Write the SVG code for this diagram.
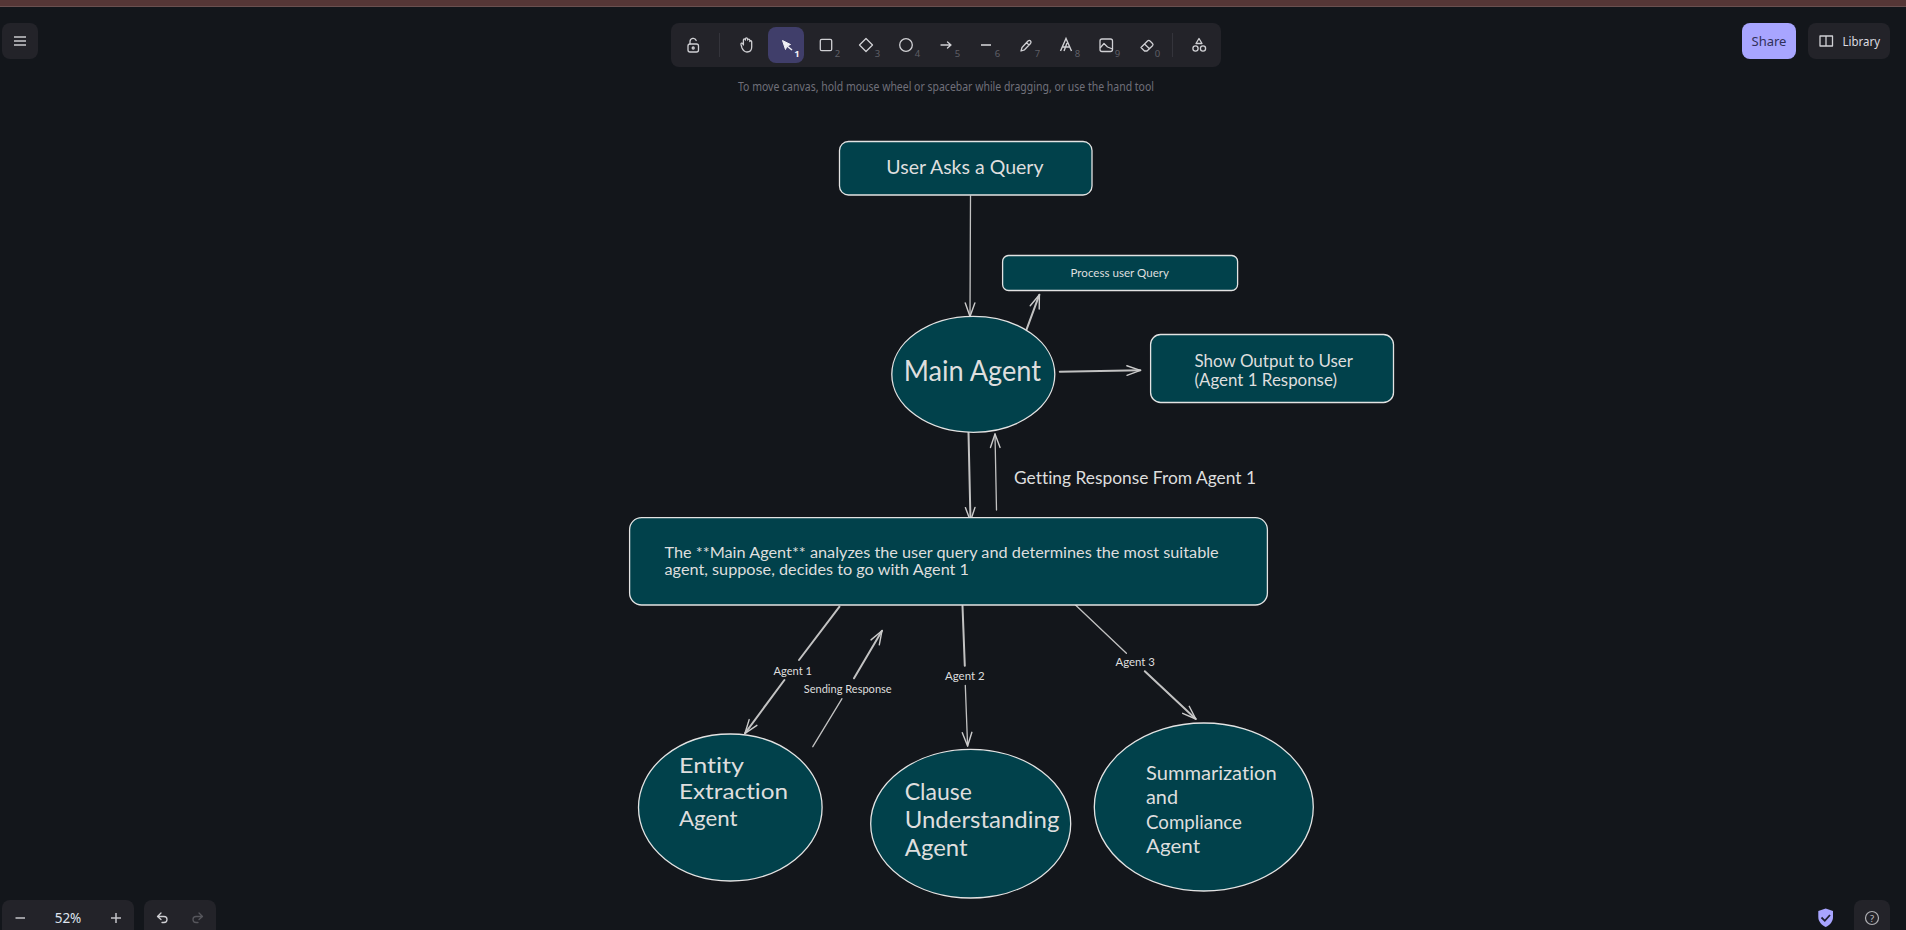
<svg xmlns="http://www.w3.org/2000/svg" width="1906" height="930" viewBox="0 0 1906 930">
<style>
.node{fill:#01414b;stroke:#e3e3e3;stroke-width:1.3}
.hand{font-family:"Lato","Noto Sans",sans-serif;fill:#dedede;stroke:none;font-variant-ligatures:none;transform:translateY(1px)}
.link{fill:none;stroke:#c2c2c2;stroke-width:1.3;stroke-linecap:round}
.thick{stroke-width:2}
.panel{fill:#232329}
.ui{font-family:"Noto Sans",sans-serif}
.icon{fill:none;stroke:#d0d0d4;stroke-width:1.3;stroke-linecap:round;stroke-linejoin:round}
.key{font-family:"Noto Sans",sans-serif;font-size:9.5px;fill:#5f5f66}
</style>
<defs>
<marker id="arrow" markerUnits="userSpaceOnUse" markerWidth="18" markerHeight="14" viewBox="-15 -7 18 14" refX="0" refY="0" orient="auto" overflow="visible">
<path d="M-13.5 -4.8L0 0L-13.5 4.8" fill="none" stroke="#cccccc" stroke-width="1.4" stroke-linecap="round" stroke-linejoin="round"/>
</marker>
</defs>
<rect width="1906" height="930" fill="#13161b"/>
<rect width="1906" height="6.5" fill="#553636"/>
<rect y="6" width="1906" height="1" fill="#6a5050"/>

<g id="menu-button">
<rect class="panel" x="2" y="23" width="36" height="36" rx="8"/>
<path d="M14 37H26M14 41H26M14 45H26" stroke="#a0a0a4" stroke-width="2" fill="none"/>
</g>

<g id="toolbar">
<rect class="panel" x="671" y="23" width="550" height="44" rx="8"/>
<rect x="768" y="27" width="36" height="36" rx="8" fill="#403e6a"/>
<path d="M719.5 33V57M1172.500 33V57" stroke="#34343b" stroke-width="1"/>
<g class="icon">
<rect x="688" y="44" width="10.500" height="8" rx="2"/><circle cx="693.200" cy="48" r="1"/><path d="M690 44V41.500A3.200 3.200 0 0 1 696.200 40.500"/>
<path d="M742 48L741 44.500C740.700 43 742 42.600 742.800 43.700L743.400 45V40C743.400 38.500 745.200 38.500 745.400 40V39C745.400 37.500 747.400 37.500 747.600 39V40C747.800 38.700 749.600 38.700 749.800 40V41.500C750 40.400 751.600 40.500 751.700 41.700V47C751.700 50.500 749.800 52 747 52C744.600 52 743.200 50.500 742 48Z"/>
<rect x="820.300" y="39.300" width="11.400" height="11.400" rx="1.500"/>
<path d="M866 38.500L872.500 45L866 51.500L859.500 45Z"/>
<circle cx="906" cy="45" r="6.300"/>
<path d="M941 45H951M947.500 42L951 45L947.500 48"/>
<path d="M1021 51L1022 47.500L1028 41C1030 39.500 1032 41.500 1030.500 43.500L1024.500 49.800Z M1026.500 42.600L1029 45"/>
<rect x="1100" y="39" width="12.500" height="12.500" rx="2"/><path d="M1100.500 47.500L1104 43.500L1107.500 47L1112.500 49"/>
<path d="M1141 47.500L1147.500 41C1148.300 40.200 1149.300 40.200 1150 41L1152.500 43.500C1153.200 44.200 1153.200 45 1152.500 45.800L1147 51H1144.500L1141 47.500ZM1144.500 44L1149.500 48.700"/>
<path d="M1199 38.500L1202 43.500H1196Z"/><circle cx="1195.500" cy="48.500" r="2.600"/><circle cx="1203" cy="48.500" r="2.600"/>
</g>
<path d="M981 45H991" stroke="#d0d0d4" stroke-width="1.600"/>
<path d="M782.500 40.500L790.500 44.500L787 46L785.500 49.500Z" fill="#f0f0f4" stroke="#f0f0f4" stroke-width="1" stroke-linejoin="round"/>
<path d="M787 46L792 50" stroke="#f0f0f4" stroke-width="1.600"/>
<path d="M1060.500 51L1066 38.500L1071.500 51M1062.500 47H1069.500M1064 51L1067 43" fill="none" stroke="#d0d0d4" stroke-width="1.400"/>
<text class="key" x="797" y="56.500" text-anchor="middle" style="fill:#f0f0f4;font-weight:700">1</text>
<text class="key" x="837.500" y="57" text-anchor="middle">2</text>
<text class="key" x="877.500" y="57" text-anchor="middle">3</text>
<text class="key" x="917.500" y="57" text-anchor="middle">4</text>
<text class="key" x="957.500" y="57" text-anchor="middle">5</text>
<text class="key" x="997.500" y="57" text-anchor="middle">6</text>
<text class="key" x="1037.500" y="57" text-anchor="middle">7</text>
<text class="key" x="1077.500" y="57" text-anchor="middle">8</text>
<text class="key" x="1117.500" y="57" text-anchor="middle">9</text>
<text class="key" x="1157.500" y="57" text-anchor="middle">0</text>
</g>
<text class="ui" x="738" y="91" font-size="12.500" fill="#70707a" textLength="416" lengthAdjust="spacingAndGlyphs">To move canvas, hold mouse wheel or spacebar while dragging, or use the hand tool</text>

<g id="share-button">
<rect x="1742" y="23" width="54" height="36" rx="8" fill="#a8a5ff"/>
<text class="ui" x="1769" y="46" font-size="13" fill="#30305a" text-anchor="middle">Share</text>
</g>
<g id="library-button">
<rect class="panel" x="1808" y="23" width="82" height="36" rx="8"/>
<path class="icon" d="M1820 36H1826V46H1820ZM1826 36H1832.500V46H1826Z"/>
<text class="ui" x="1842.500" y="46" font-size="13" fill="#dcdce0" textLength="37.500" lengthAdjust="spacingAndGlyphs">Library</text>
</g>

<g id="zoom-controls">
<path class="panel" d="M2 930V908A8 8 0 0 1 10 900H126A8 8 0 0 1 134 908V930Z"/>
<path d="M15.500 918H25M111 918H121M116 913V923" stroke="#c4c4c8" stroke-width="1.500" fill="none"/>
<text class="ui" x="68" y="923" font-size="13.500" fill="#dfe4ee" text-anchor="middle">52%</text>
</g>
<g id="undo-controls">
<path class="panel" d="M144 930V908A8 8 0 0 1 152 900H208A8 8 0 0 1 216 908V930Z"/>
<path class="icon" d="M161 913L157.500 916.500L161 919.500M157.500 916.500H164C168 916.500 168 922.500 164 922.500H162"/>
<path class="icon" style="stroke:#56565c" d="M199 913L202.500 916.500L199 919.500M202.500 916.500H196C192 916.500 192 922.500 196 922.500H198"/>
</g>
<g id="status-icons">
<path d="M1825.700 908.500L1833 911V917C1833 921.500 1830 925 1825.700 927C1821.500 925 1818.300 921.500 1818.300 917V911Z" fill="#a8a5ff"/>
<path d="M1821.500 917.500L1824.800 920.800L1830 915" fill="none" stroke="#1f2030" stroke-width="1.800"/>
<path class="panel" d="M1854 930V908A8 8 0 0 1 1862 900H1882A8 8 0 0 1 1890 908V930Z"/>
<circle cx="1872" cy="918" r="6.500" fill="none" stroke="#b0b0b4" stroke-width="1.200"/>
<text class="ui" x="1872" y="921.500" font-size="9.500" fill="#c0c0c4" text-anchor="middle">?</text>
</g>

<g id="connectors">
<path class="link" marker-end="url(#arrow)" d="M970.500 196L970 316.500"/>
<path class="link thick" marker-end="url(#arrow)" d="M1026.600 329.300L1039.400 294.700"/>
<path class="link thick" marker-end="url(#arrow)" d="M1059.800 371.700L1140.400 370.300"/>
<path class="link thick" marker-end="url(#arrow)" d="M968.500 432.500L970.500 521"/>
<path class="link" marker-end="url(#arrow)" d="M996.500 510L995 434"/>
<path class="link thick" d="M839.500 606.700L799 660"/>
<path class="link thick" marker-end="url(#arrow)" d="M784.400 680L745 733.300"/>
<path class="link" d="M812.800 746.700L842 698.700"/>
<path class="link thick" marker-end="url(#arrow)" d="M854 678.300L882 630.700"/>
<path class="link thick" d="M962.500 606L964.800 665.700"/>
<path class="link" marker-end="url(#arrow)" d="M965.300 685.300L967.600 746"/>
<path class="link" d="M1075.500 605L1126.400 653.300"/>
<path class="link thick" marker-end="url(#arrow)" d="M1144.800 671.300L1195.800 719"/>
<text class="hand" x="773.400" y="674" font-size="11.500" textLength="38.600" lengthAdjust="spacingAndGlyphs">Agent 1</text>
<text class="hand" x="803.700" y="691.700" font-size="11.500" textLength="88" lengthAdjust="spacingAndGlyphs">Sending Response</text>
<text class="hand" x="945" y="678.700" font-size="11.500" textLength="39.600" lengthAdjust="spacingAndGlyphs">Agent 2</text>
<text class="hand" x="1115.400" y="664.700" font-size="11.500" textLength="39.600" lengthAdjust="spacingAndGlyphs">Agent 3</text>
<text class="hand" x="1014" y="482.700" font-size="17.500" textLength="242" lengthAdjust="spacingAndGlyphs">Getting Response From Agent 1</text>
</g>

<g id="user-query">
<rect class="node" x="839.500" y="141.500" width="252.500" height="53.500" rx="9"/>
<text class="hand" x="886.300" y="172.700" font-size="19" textLength="157.200" lengthAdjust="spacingAndGlyphs">User Asks a Query</text>
</g>
<g id="process-query">
<rect class="node" x="1002.600" y="255.500" width="235" height="35" rx="6"/>
<text class="hand" x="1070.500" y="275.700" font-size="11.500" textLength="98.500" lengthAdjust="spacingAndGlyphs">Process user Query</text>
</g>
<g id="main-agent">
<ellipse class="node" cx="973.300" cy="374.300" rx="81.500" ry="58"/>
<text class="hand" x="903.700" y="380" font-size="29" textLength="137.300" lengthAdjust="spacingAndGlyphs">Main Agent</text>
</g>
<g id="show-output">
<rect class="node" x="1150.600" y="334.500" width="242.900" height="68" rx="10"/>
<text class="hand" x="1194.500" y="365.700" font-size="17" textLength="158.500" lengthAdjust="spacingAndGlyphs">Show Output to User</text>
<text class="hand" x="1194.500" y="385" font-size="17" textLength="142.500" lengthAdjust="spacingAndGlyphs">(Agent 1 Response)</text>
</g>
<g id="decision-note">
<rect class="node" x="629.600" y="517.600" width="637.800" height="87.400" rx="12"/>
<text class="hand" x="664.500" y="556.700" font-size="15.500" textLength="554.200" lengthAdjust="spacingAndGlyphs">The **Main Agent** analyzes the user query and determines the most suitable</text>
<text class="hand" x="664.500" y="574.300" font-size="15.500" textLength="304.500" lengthAdjust="spacingAndGlyphs">agent, suppose, decides to go with Agent 1</text>
</g>
<g id="entity-agent">
<ellipse class="node" cx="730.300" cy="807.500" rx="91.800" ry="73.500"/>
<text class="hand" x="679" y="772.300" font-size="22" textLength="65" lengthAdjust="spacingAndGlyphs">Entity</text>
<text class="hand" x="679" y="798.300" font-size="22" textLength="109" lengthAdjust="spacingAndGlyphs">Extraction</text>
<text class="hand" x="679" y="825" font-size="22" textLength="58.500" lengthAdjust="spacingAndGlyphs">Agent</text>
</g>
<g id="clause-agent">
<ellipse class="node" cx="970.700" cy="823.700" rx="100" ry="74.300"/>
<text class="hand" x="904.700" y="799.300" font-size="23.500" textLength="67.300" lengthAdjust="spacingAndGlyphs">Clause</text>
<text class="hand" x="904.700" y="827.300" font-size="23.500" textLength="154.700" lengthAdjust="spacingAndGlyphs">Understanding</text>
<text class="hand" x="904.700" y="855" font-size="23.500" textLength="62.900" lengthAdjust="spacingAndGlyphs">Agent</text>
</g>
<g id="summarization-agent">
<ellipse class="node" cx="1203.800" cy="807" rx="109.500" ry="84"/>
<text class="hand" x="1146" y="779.300" font-size="19.500" textLength="130.600" lengthAdjust="spacingAndGlyphs">Summarization</text>
<text class="hand" x="1146" y="803.300" font-size="19.500" textLength="32" lengthAdjust="spacingAndGlyphs">and</text>
<text class="hand" x="1146" y="827.700" font-size="19.500" textLength="96" lengthAdjust="spacingAndGlyphs">Compliance</text>
<text class="hand" x="1146" y="851.700" font-size="19.500" textLength="54" lengthAdjust="spacingAndGlyphs">Agent</text>
</g>
</svg>
